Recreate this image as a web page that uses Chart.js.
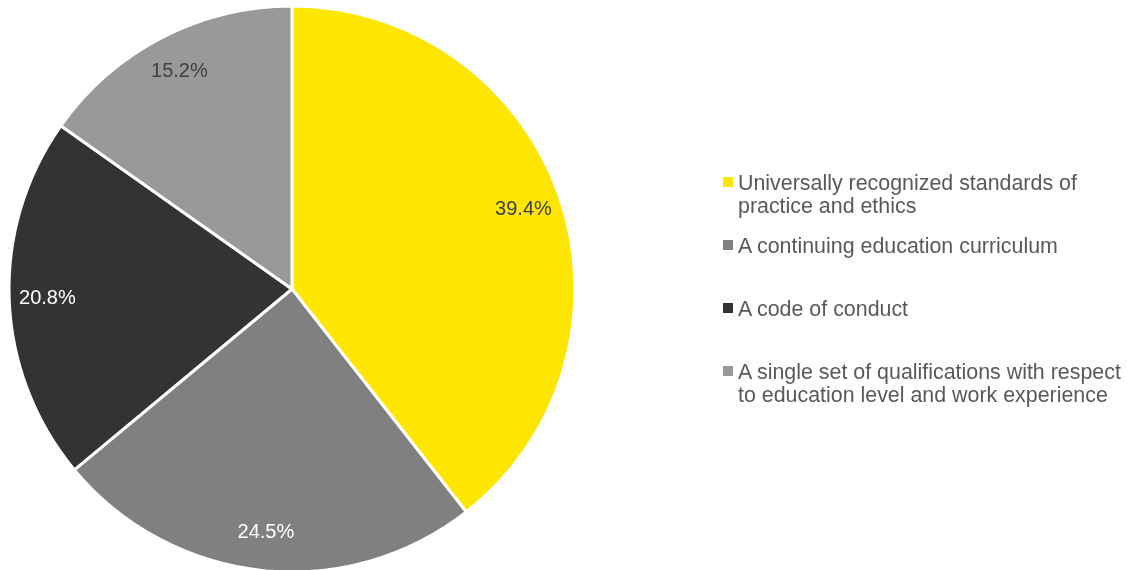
<!DOCTYPE html>
<html>
<head>
<meta charset="utf-8">
<script src="https://cdn.jsdelivr.net/npm/chart.js@4/dist/chart.umd.min.js"></script>
<style>
  html, body { margin: 0; padding: 0; background: #fff; }
  #wrap { position: relative; width: 1127px; height: 570px; overflow: hidden; }
  #chartBox { position: absolute; left: 0; top: 0; width: 1127px; height: 570px; }
  #legend { position: absolute; left: 722px; top: 0; width: 405px; height: 570px;
    font-family: "Liberation Sans", Arial, sans-serif; font-size: 21.4px; color: #595959; }
  .item { position: absolute; left: 0; padding-left: 16px; line-height: 23px; white-space: nowrap; }
  .swatch { position: absolute; left: 1px; top: 5px; width: 10px; height: 10px; }
</style>
</head>
<body>
<div id="wrap">
  <div id="chartBox"><canvas id="pieChart"></canvas></div>
  <div id="legend"></div>
</div>
<script>
const categories = [
  ['Universally recognized standards of', 'practice and ethics'],
  ['A continuing education curriculum'],
  ['A code of conduct'],
  ['A single set of qualifications with respect', 'to education level and work experience']
];
const shares = [39.4, 24.5, 20.8, 15.2];
const sliceColors = ['#FFE600', '#808080', '#333333', '#999999'];
const labelColors = ['#404040', '#ffffff', '#ffffff', '#404040'];

// legend built by hand so the labels can wrap like the original
const legend = document.getElementById('legend');
categories.forEach((lines, i) => {
  const item = document.createElement('div');
  item.className = 'item';
  item.style.top = (172 + i * 63) + 'px';
  item.innerHTML = '<span class="swatch" style="background:' + sliceColors[i] + '"></span>' + lines.join('<br>');
  legend.appendChild(item);
});

// percentage labels inside the slices
const sliceLabels = {
  id: 'sliceLabels',
  afterDatasetsDraw(chart) {
    const ctx = chart.ctx;
    const arcs = chart.getDatasetMeta(0).data;
    ctx.save();
    ctx.font = '20px "Liberation Sans", Arial, sans-serif';
    ctx.textAlign = 'center';
    ctx.textBaseline = 'middle';
    arcs.forEach((arc, i) => {
      const p = arc.getProps(['x', 'y', 'startAngle', 'endAngle', 'outerRadius'], true);
      const mid = (p.startAngle + p.endAngle) / 2;
      const r = p.outerRadius * 0.865;
      ctx.fillStyle = labelColors[i];
      ctx.fillText(shares[i].toFixed(1) + '%', p.x + Math.cos(mid) * r, p.y + Math.sin(mid) * r);
    });
    ctx.restore();
  }
};

new Chart(document.getElementById('pieChart'), {
  type: 'pie',
  data: {
    labels: categories.map(l => l.join(' ')),
    datasets: [{
      data: shares,
      backgroundColor: sliceColors,
      borderColor: '#ffffff',
      borderWidth: 3,
      clip: false
    }]
  },
  options: {
    responsive: true,
    maintainAspectRatio: false,
    animation: false,
    radius: 283,
    layout: { padding: { left: 10, right: 553, top: 12, bottom: 4 } },
    plugins: {
      legend: { display: false },
      tooltip: { enabled: false }
    }
  },
  plugins: [sliceLabels]
});
</script>
</body>
</html>
